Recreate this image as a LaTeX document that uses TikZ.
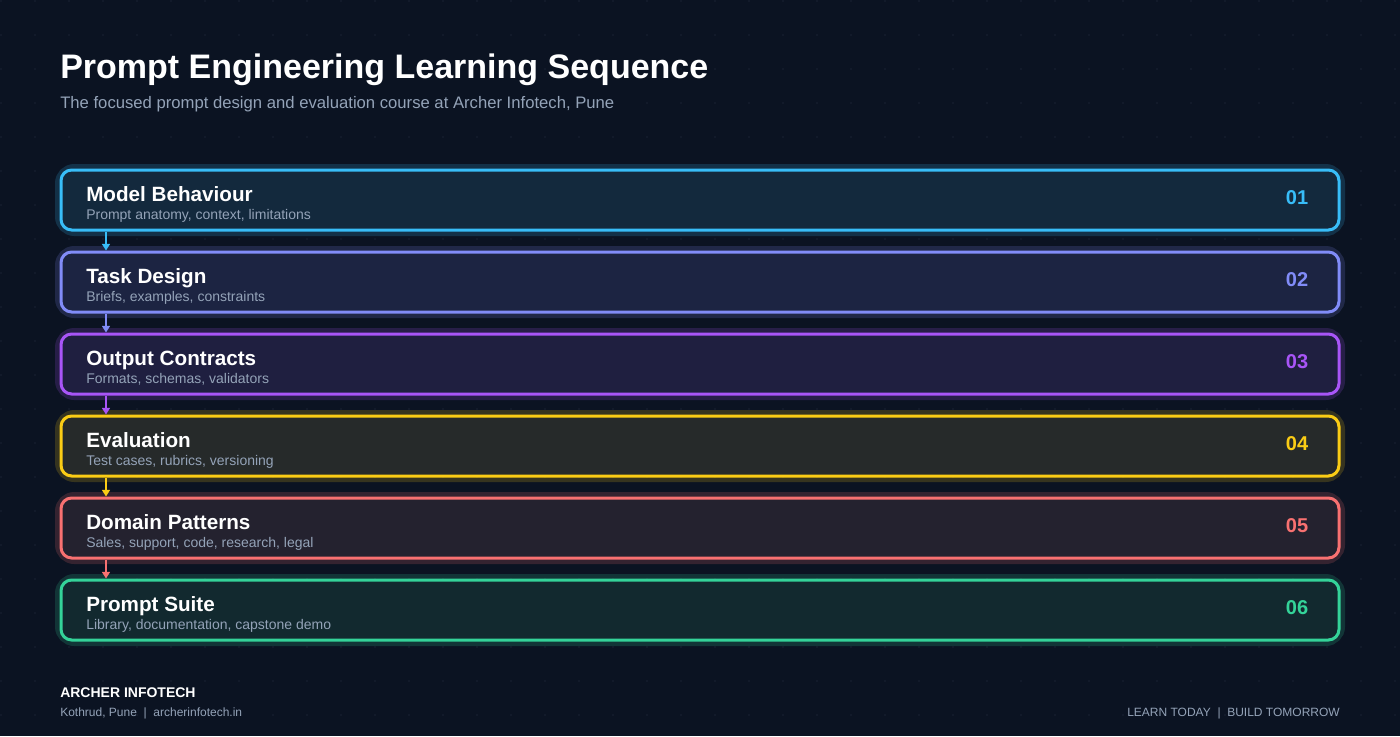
\documentclass[tikz,border=0pt]{standalone}
\usepackage{fontspec}
\setmainfont{Liberation Sans}
\usetikzlibrary{arrows.meta,positioning}
\definecolor{bgcol}{HTML}{0B1322}
\definecolor{dotcol}{HTML}{2A3548}
\definecolor{subcol}{HTML}{94A3B8}
\definecolor{cA}{HTML}{38BDF8}\definecolor{fA}{HTML}{13293D}
\definecolor{cB}{HTML}{818CF8}\definecolor{fB}{HTML}{1C2442}
\definecolor{cC}{HTML}{A855F7}\definecolor{fC}{HTML}{1F1F40}
\definecolor{cD}{HTML}{FACC15}\definecolor{fD}{HTML}{262A2A}
\definecolor{cE}{HTML}{F87171}\definecolor{fE}{HTML}{24222F}
\definecolor{cF}{HTML}{34D399}\definecolor{fF}{HTML}{12292F}
\begin{document}
\begin{tikzpicture}[x=0.75pt,y=-0.75pt,
    every node/.style={inner sep=0pt},
    step card/.style={draw,line width=2.25pt,rounded corners=8pt,minimum width=958.5pt,minimum height=45pt},
    step title/.style={font=\bfseries\fontsize{15.5}{18}\selectfont,text=white,anchor=base west},
    step sub/.style={font=\fontsize{10.5}{12}\selectfont,text=subcol,anchor=base west},
    step num/.style={font=\bfseries\fontsize{15}{18}\selectfont,anchor=center},
    link/.style={-{Triangle[length=5pt,width=6pt]},line width=1.2pt}]
  \fill[bgcol] (0,0) rectangle (1400,736);
  \useasboundingbox (0,0) rectangle (1400,736);
  % background dots
  \foreach \i in {0,...,41} \foreach \j in {0,...,21}
    \fill[dotcol] (\i*34+1,\j*34+1) circle (0.5pt);
  \node[font=\bfseries\fontsize{25.5}{30}\selectfont,text=white,anchor=base west] (title) at (60,78) {Prompt Engineering Learning Sequence};
  \node[font=\fontsize{12.5}{15}\selectfont,text=subcol,anchor=base west] (subtitle) at (60,108) {The focused prompt design and evaluation course at Archer Infotech, Pune};
  % cards
  \foreach \n/\c/\f/\t/\s [count=\k] in {
      01/cA/fA/Model Behaviour/{Prompt anatomy, context, limitations},
      02/cB/fB/Task Design/{Briefs, examples, constraints},
      03/cC/fC/Output Contracts/{Formats, schemas, validators},
      04/cD/fD/Evaluation/{Test cases, rubrics, versioning},
      05/cE/fE/Domain Patterns/{Sales, support, code, research, legal},
      06/cF/fF/Prompt Suite/{Library, documentation, capstone demo}} {
    \draw[\c,opacity=0.18,line width=9pt,rounded corners=10pt] (61,88+\k*82) rectangle (1339,148+\k*82);
    \node[step card,draw=\c,fill=\f] (card\k) at (700,118+\k*82) {};
    \node[step title] (name\k) at (86,119+\k*82) {\t};
    \node[step sub] (desc\k) at (86,137+\k*82) {\s};
    \node[step num,text=\c] (num\k) at (1297,116+\k*82) {\n};
  }
  \foreach \c [count=\k] in {cA,cB,cC,cD,cE} {
    \pgfmathtruncatemacro{\nxt}{\k+1}
    \coordinate (top\k) at ([xshift=-445.5pt]card\k.south);
    \coordinate (bot\k) at ([xshift=-445.5pt]card\nxt.north);
    \draw[link,\c] (top\k) -- (bot\k);
  }
  % footer
  \node[font=\bfseries\fontsize{10.5}{12}\selectfont,text=white,anchor=base west] (brand) at (60,697) {ARCHER INFOTECH};
  \node[font=\fontsize{9}{11}\selectfont,text=subcol,anchor=base west] (place) at (60,716) {Kothrud, Pune~~|~~archerinfotech.in};
  \node[font=\fontsize{9}{11}\selectfont,text=subcol,anchor=base east] (motto) at (1340,716) {LEARN TODAY~~|~~BUILD TOMORROW};
\end{tikzpicture}
\end{document}
